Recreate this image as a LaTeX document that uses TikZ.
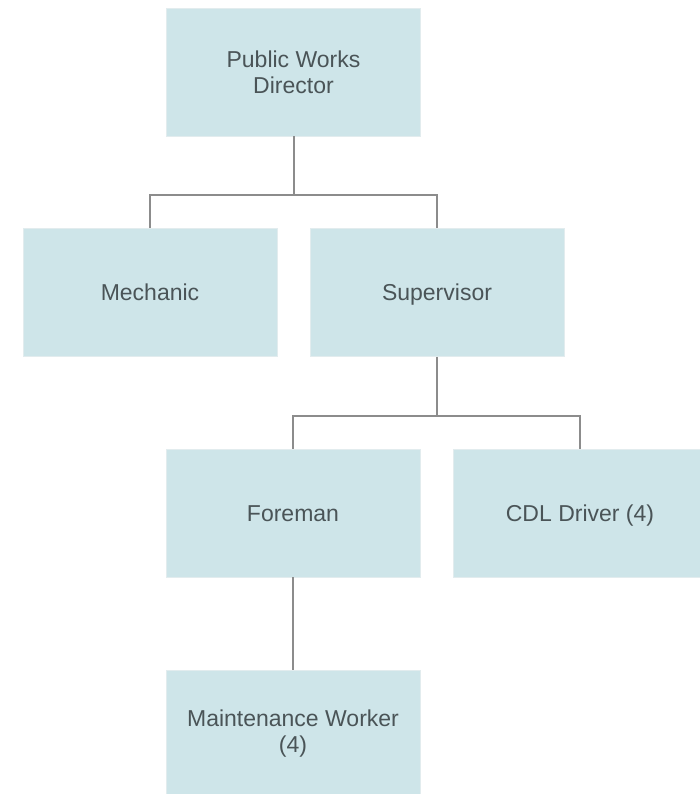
\documentclass[tikz,border=0pt]{standalone}
\usepackage{fontspec}
\setmainfont{Liberation Sans}
\definecolor{boxfill}{RGB}{206,229,233}
\definecolor{boxedge}{RGB}{226,236,238}
\definecolor{labeltext}{RGB}{74,84,87}
\definecolor{linkgray}{RGB}{140,140,140}
\begin{document}
\begin{tikzpicture}[x=1pt,y=-1pt,
  role/.style={rectangle, fill=boxfill, draw=boxedge, line width=0.8pt,
    minimum width=254pt, minimum height=128pt, inner sep=0pt,
    align=center, text=labeltext,
    font=\fontsize{23}{26}\selectfont},
  oneline/.style={role, text height=18pt, text depth=1.5pt},
  link/.style={draw=linkgray, line width=2pt}]
  \useasboundingbox (0,0) rectangle (700,794);
  \clip (0,0) rectangle (700,794);

  % positions of the role boxes
  \node[role]    (dir)   at (293.5,72)  {Public Works\\Director};
  \node[oneline] (mech)  at (150,292.5) {Mechanic};
  \node[oneline] (sup)   at (437,292.5) {Supervisor};
  \node[oneline] (fore)  at (293,513)   {Foreman};
  \node[oneline] (cdl)   at (580,513)   {CDL Driver (4)};
  \node[role]    (maint) at (293,734)   {Maintenance Worker\\(4)};

  % horizontal bus lines of the tree
  \coordinate (busA) at (293.5,195);
  \coordinate (busB) at (437,416);

  \draw[link] (dir.south) -- (busA);
  \draw[link] (busA) -| (mech.north);
  \draw[link] (busA) -| (sup.north);

  \draw[link] (sup.south) -- (busB);
  \draw[link] (busB) -| (fore.north);
  \draw[link] (busB) -| (cdl.north);

  \draw[link] (fore.south) -- (maint.north);
\end{tikzpicture}
\end{document}
